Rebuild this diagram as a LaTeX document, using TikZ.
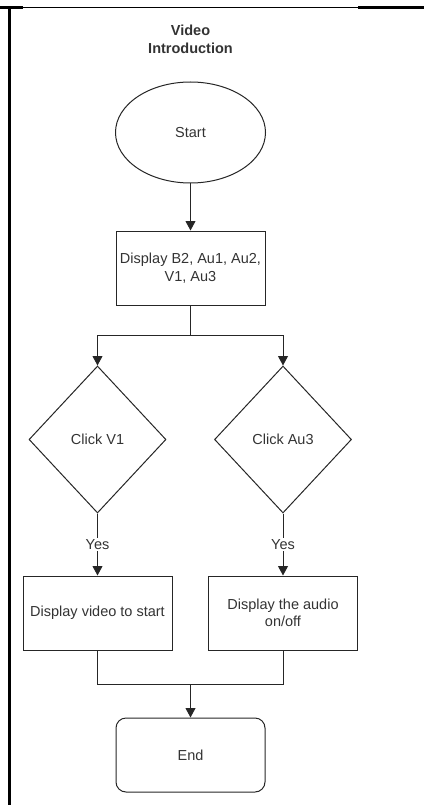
\documentclass[tikz,border=0pt]{standalone}
\usepackage{fontspec}
\setmainfont{Liberation Sans}
\usetikzlibrary{arrows.meta,shapes.geometric}
\begin{document}
\begin{tikzpicture}[x=1pt,y=-1pt,
  every node/.style={font=\fontsize{14.5}{17.5}\selectfont, text=black!80},
  line/.style={draw=black!85, line width=1pt},
  arr/.style={line, -{Triangle[length=9.5pt,width=10pt]}},
  box/.style={line, rectangle, minimum width=149pt, minimum height=74pt, align=center, inner sep=0pt},
  endbox/.style={box, rounded corners=10pt},
  oval/.style={line, ellipse, minimum width=150pt, minimum height=101pt, inner sep=0pt},
  decision/.style={line, diamond, minimum width=137pt, minimum height=147pt, inner sep=0pt},
  lbl/.style={fill=white, inner sep=1.5pt},
  frameline/.style={draw=black, line width=2.5pt}
]
\useasboundingbox (0,0) rectangle (424,805);
% frame
\draw[draw=black, line width=0.9pt] (0,7.5) -- (424,7.5);
\draw[frameline] (0,7.5) -- (23,7.5);
\draw[frameline] (358,7.5) -- (424,7.5);
\draw[frameline] (9.5,7) -- (9.5,805);
% nodes
\node[font=\bfseries\fontsize{14.5}{18}\selectfont, align=center] (title) at (190.5,39) {Video\\Introduction};
\node[oval] (start) at (190.5,132.5) {Start};
\node[box] (disp) at (190.5,268) {Display B2, Au1, Au2,\\V1, Au3};
\node[decision] (d1) at (97.5,439.5) {Click V1};
\node[decision] (d2) at (283,439.5) {Click Au3};
\node[box] (vid) at (97.5,613) {Display video to start};
\node[box] (aud) at (283,613) {Display the audio\\on/off};
\node[endbox] (end) at (190.5,755) {End};
\coordinate (split) at (190.5,335);
\coordinate (join) at (190.5,684);
% connectors
\draw[arr] (start) -- (disp);
\draw[line] (disp.south) -- (split);
\draw[arr] (split) -| (d1.north);
\draw[arr] (split) -| (d2.north);
\draw[arr] (d1.south) -- node[lbl] {Yes} (vid.north);
\draw[arr] (d2.south) -- node[lbl] {Yes} (aud.north);
\draw[line] (vid.south) -- (vid.south |- join) -- (aud.south |- join) -- (aud.south);
\draw[arr] (join) -- (end);
\end{tikzpicture}
\end{document}
